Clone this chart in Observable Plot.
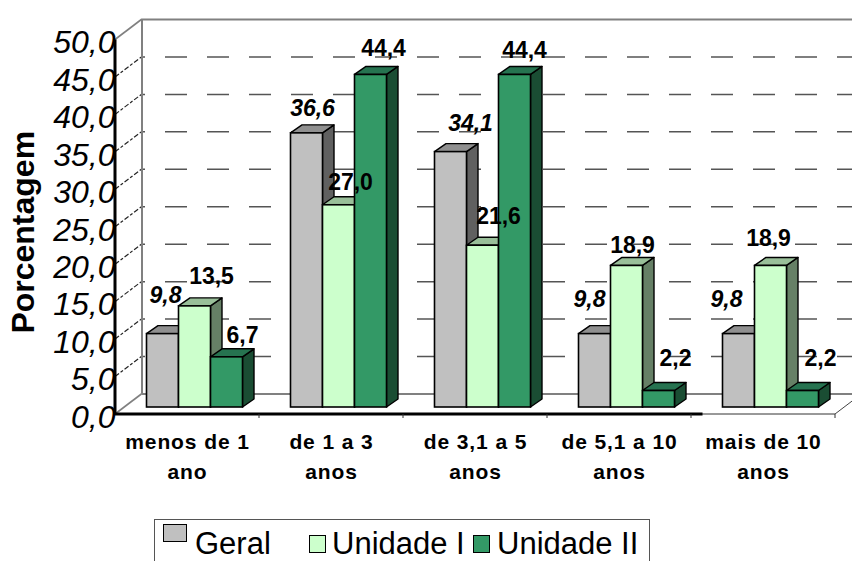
<!DOCTYPE html>
<html lang="pt">
<head>
<meta charset="utf-8">
<script src="https://cdn.jsdelivr.net/npm/d3@7"></script>
<script src="https://cdn.jsdelivr.net/npm/@observablehq/plot@0.6"></script>
<style>
  html, body { margin: 0; padding: 0; background: #fff; overflow: hidden; }
  #chart { width: 852px; height: 561px; position: relative; overflow: hidden; font-family: "Liberation Sans", Arial, sans-serif; }
  #chart svg { display: block; }
  #legend { position: absolute; left: 154px; top: 519px; width: 496px; height: 42px; box-sizing: border-box; border: 1px solid #555; border-bottom: none; color: #000; font-size: 31px; line-height: 30px; }
  #legend i { position: absolute; box-sizing: border-box; border: 1.5px solid #000; }
  #legend span { position: absolute; top: 9px; white-space: nowrap; }
</style>
</head>
<body>
<div id="chart"></div>
<script>
const categories = ["menos de 1\nano", "de 1 a 3\nanos", "de 3,1 a 5\nanos", "de 5,1 a 10\nanos", "mais de 10\nanos"];
const geral = [9.8, 36.6, 34.1, 9.8, 9.8];
const unidadeI = [13.5, 27.0, 21.6, 18.9, 18.9];
const unidadeII = [6.7, 44.4, 44.4, 2.2, 2.2];
const seriesNames = ["Geral", "Unidade I", "Unidade II"];
const yTicks = [0, 5, 10, 15, 20, 25, 30, 35, 40, 45, 50];

const fills = ["#c0c0c0", "#ccffcc", "#339966"];
const sideFills = ["#606060", "#668066", "#1a4d33"];
const topFills = ["#909090", "#99bf99", "#267350"];

// label nudges relative to the top centre of each bar
const nudgeX = [[2.5, 5.5, 19.5, -5.5, -12.5], [16.5, 11.5, 15.5, 5.5, -2.5], [15.5, 12.5, 9.5, 16.5, 17.5]];
const nudgeY = [[-38.5, -24.5, -28, -34.5, -34.5], [-29.75, -22.5, -29, -20, -27], [-21.75, -26, -24, -32.5, -32.5]];

const values = [geral, unidadeI, unidadeII];
const fmt = d => d.toFixed(1).replace(".", ",");
const FONT = "Liberation Sans";

// chart geometry
const wallDX = 27, wallDY = -20.5;   // depth of the chart box
const barW = 32, barInset = 56;      // bar width inside the 144px band
const baseDX = 7.5, baseDY = -7;     // where bars stand on the floor
const barDX = 11.5, barDY = -8;      // depth of a bar

function svgEl(name, attrs) {
  const e = document.createElementNS("http://www.w3.org/2000/svg", name);
  for (const k in attrs) e.setAttribute(k, attrs[k]);
  return e;
}

// side walls, floor edges and front axis lines, positioned from the scales
function frameMark(index, { x, y }) {
  const g = svgEl("g", {});
  const xL = x(categories[0]);
  const xR = x(categories[categories.length - 1]) + x.bandwidth();
  const line = (x1, y1, x2, y2, stroke, w, dash) => {
    const l = svgEl("line", { x1, y1, x2, y2, stroke, "stroke-width": w });
    if (dash) l.setAttribute("stroke-dasharray", dash);
    g.appendChild(l);
  };
  for (const t of yTicks) {
    if (t === 0 || t === 50) line(xL, y(t), xL + wallDX, y(t) + wallDY, "#808080", 1.6);
    else line(xL, y(t), xL + wallDX, y(t) + wallDY, "#222", 1.2, "5 2 3 2");
  }
  line(xL + wallDX, y(0) + wallDY, xL + wallDX, y(50) + wallDY, "#808080", 2);
  line(xR, y(0), xR + wallDX, y(0) + wallDY, "#444", 1);
  line(xL, y(0), xR, y(0), "#333", 1);
  line(xL, y(0), x(categories[3]) + x.bandwidth() * 1.08, y(0), "#000", 3);
  line(xL, y(0) + 1, xL, y(50), "#000", 3);
  for (const c of categories.slice(1)) line(x(c), y(0), x(c), y(0) + 4, "#333", 1);
  line(xR, y(0), xR, y(0) + 4, "#333", 1);
  return g;
}

// top and side faces of one series, positioned from the scales
function facesMark(s) {
  return (index, { x, y }) => {
    const g = svgEl("g", { stroke: "#000", "stroke-width": 1.4, "stroke-linejoin": "round" });
    categories.forEach((c, i) => {
      const x0 = x(c) + barInset + baseDX + (s - 1) * barW;
      const x1 = x0 + barW;
      const t = y(values[s][i]) + baseDY;
      const b = y(0) + baseDY;
      g.appendChild(svgEl("polygon", {
        fill: sideFills[s],
        points: [[x1, t], [x1 + barDX, t + barDY], [x1 + barDX, b + barDY], [x1, b]].join(" ")
      }));
      g.appendChild(svgEl("polygon", {
        fill: topFills[s],
        points: [[x0, t], [x0 + barDX, t + barDY], [x1 + barDX, t + barDY], [x1, t]].join(" ")
      }));
    });
    return g;
  };
}

const barMarks = seriesNames.flatMap((name, s) => {
  const rows = categories.map((c, i) => ({ cat: c, v: values[s][i] }));
  return [
    facesMark(s),
    Plot.rectY(rows, {
      x: "cat", y: "v", fill: fills[s], stroke: "#000", strokeWidth: 1.6,
      insetLeft: barInset, insetRight: barInset, dx: baseDX + (s - 1) * barW, dy: baseDY
    })
  ];
});

const labelMarks = seriesNames.flatMap((name, s) =>
  categories.map((c, i) => Plot.text([{ cat: c, v: values[s][i] }], {
    x: "cat", y: "v", text: d => fmt(d.v),
    dx: baseDX + (s - 1) * barW + nudgeX[s][i],
    dy: baseDY + nudgeY[s][i],
    fontFamily: FONT, fontSize: 23, fontWeight: "bold",
    fontStyle: s === 0 ? "italic" : "normal", fill: "#000"
  }))
);

const chart = Plot.plot({
  width: 852, height: 519,
  marginLeft: 115, marginRight: 17, marginTop: 39.5, marginBottom: 105,
  style: { fontFamily: FONT, background: "#fff", color: "#000", overflow: "hidden" },
  x: { domain: categories, padding: 0, label: null },
  y: { domain: [0, 50], label: null },
  marks: [
    Plot.ruleY([0, 50], { y: d => d, dx: wallDX, dy: wallDY, stroke: "#808080", strokeWidth: 2 }),
    Plot.ruleY(yTicks.slice(1, -1), {
      y: d => d, dx: wallDX, dy: wallDY, stroke: "#555", strokeWidth: 1.5,
      strokeDasharray: "22 20", strokeDashoffset: 19
    }),
    frameMark,
    ...barMarks,
    Plot.axisY(yTicks, {
      tickSize: 0, tickPadding: 0, tickFormat: fmt, label: null,
      fontFamily: FONT, fontSize: 32, fontStyle: "italic", dy: 3, fill: "#000"
    }),
    Plot.axisX({
      tickSize: 0, tickPadding: 13, label: null, tickFormat: d => d,
      fontFamily: FONT, fontSize: 21, fontWeight: "bold", lineHeight: 1.43,
      fill: "#000"
    }),
    Plot.text(["Porcentagem"], {
      text: d => d, frameAnchor: "left", textAnchor: "middle", rotate: -90, dx: -92, dy: 5,
      fontFamily: FONT, fontSize: 32, fontWeight: "bold", fill: "#000"
    }),
    ...labelMarks
  ]
});
chart.querySelectorAll('[aria-label="x-axis tick label"] text').forEach(t => t.setAttribute("letter-spacing", "0.9"));

const root = document.getElementById("chart");
root.appendChild(chart);

const legend = document.createElement("div");
legend.id = "legend";
const swatches = [
  { left: 8, top: 4, w: 24, h: 18 },
  { left: 154, top: 15, w: 17, h: 18 },
  { left: 318, top: 15, w: 17, h: 18 }
];
const textLefts = [40, 177, 342];
seriesNames.forEach((name, s) => {
  const i = document.createElement("i");
  i.style.cssText = `left:${swatches[s].left}px;top:${swatches[s].top}px;width:${swatches[s].w}px;height:${swatches[s].h}px;background:${fills[s]}`;
  const t = document.createElement("span");
  t.textContent = name;
  t.style.left = textLefts[s] + "px";
  legend.append(i, t);
});
root.appendChild(legend);
</script>
</body>
</html>
